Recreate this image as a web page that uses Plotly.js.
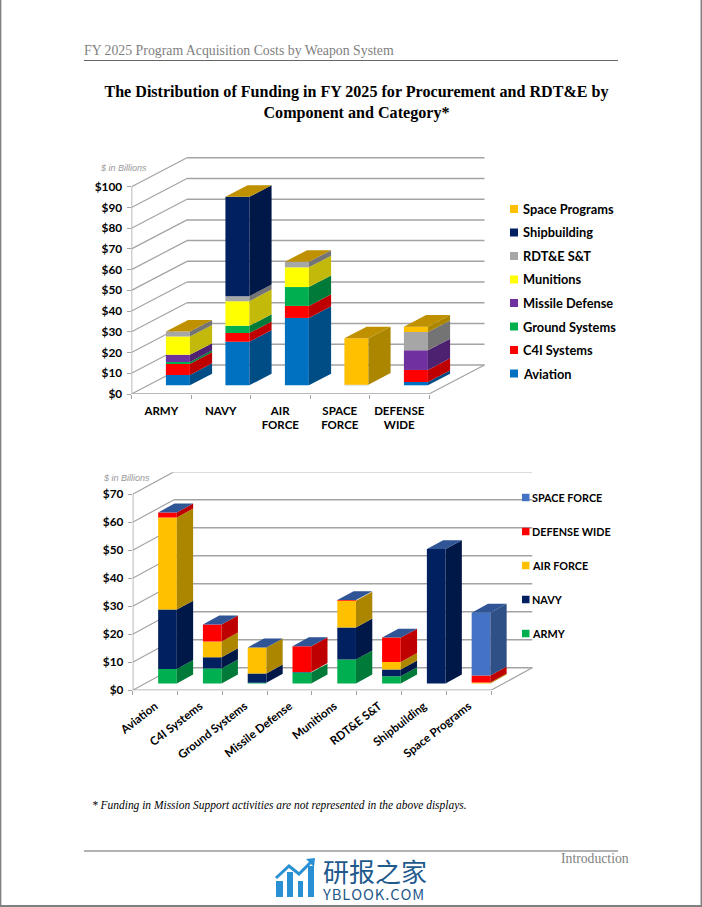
<!DOCTYPE html>
<html><head><meta charset="utf-8">
<script src="https://cdn.plot.ly/plotly-3.0.1.min.js"></script>
<style>html,body{margin:0;padding:0;background:#fff}#c{width:702px;height:907px}</style>
</head><body><div id="c"></div>
<script>
// ---- data: top chart ----
const components = ['ARMY','NAVY','AIR<br>FORCE','SPACE<br>FORCE','DEFENSE<br>WIDE'];
const aviation = [5, 21, 32.5, 0, 1.6];
const c4i = [5.3, 4.2, 5.8, 0, 5.8];
const groundSystems = [1, 3.5, 9.1, 0, 0];
const missileDefense = [3.4, 0, 0, 0, 9.5];
const munitions = [8.8, 11.9, 9.5, 0, 0];
const rdteSt = [2.4, 2.4, 2.7, 0.3, 8.8];
const shipbuilding = [0, 47.9, 0, 0, 0];
const spacePrograms = [0, 0, 0, 22.4, 2.6];
const topTicks = [0,10,20,30,40,50,60,70,80,90,100];
// ---- data: bottom chart ----
const categories = ['Aviation','C4I Systems','Ground Systems','Missile Defense','Munitions','RDT&amp;E S&amp;T','Shipbuilding','Space Programs'];
const army = [5.2, 5.4, 0.3, 3.9, 8.6, 2.6, 0, 0];
const navy = [21.2, 4, 3.3, 0.2, 11.4, 2.4, 48, 0];
const airForce = [32.9, 5.6, 9.3, 0, 9.6, 2.7, 0, 0.4];
const defenseWide = [1.8, 6.1, 0, 9.2, 0.2, 8.7, 0, 2.5];
const spaceForce = [0, 0, 0, 0, 0, 0, 0, 22.4];
const bottomTicks = [0,10,20,30,40,50,60,70];

const topSeries = [
 {name:'Aviation',v:aviation,c:'#0070C0',s:'#004C84'},
 {name:'C4I Systems',v:c4i,c:'#FF0000',s:'#BF0000'},
 {name:'Ground Systems',v:groundSystems,c:'#00B050',s:'#007A38'},
 {name:'Missile Defense',v:missileDefense,c:'#7030A0',s:'#4D2170'},
 {name:'Munitions',v:munitions,c:'#FFFF00',s:'#C2B90A'},
 {name:'RDT&amp;E S&amp;T',v:rdteSt,c:'#A6A6A6',s:'#747474'},
 {name:'Shipbuilding',v:shipbuilding,c:'#002060',s:'#001848'},
 {name:'Space Programs',v:spacePrograms,c:'#FFC000',s:'#AD8600'}];
const bottomSeries = [
 {name:'ARMY',v:army,c:'#00B050',s:'#007A38'},
 {name:'NAVY',v:navy,c:'#002060',s:'#001848'},
 {name:'AIR FORCE',v:airForce,c:'#FFC000',s:'#AD8600'},
 {name:'DEFENSE WIDE',v:defenseWide,c:'#FF0000',s:'#BF0000'},
 {name:'SPACE FORCE',v:spaceForce,c:'#4472C4',s:'#2F5087'}];

const W=702,H=907;
const px=x=>x/W, py=y=>1-y/H;
const traces=[], shapes=[], annotations=[];
const SANS='Lato, "Open Sans", sans-serif', SERIF='"Liberation Serif", serif', ARIAL='"Liberation Sans", sans-serif';
const WALL='#A3A3A3';

function chart(o){
  const n=o.labels.length;
  const xs=o.xs.replace('axis',''), ys=o.ys.replace('axis','');
  const catPx=(o.frontRight-o.left)/n,
    valPx=o.pxPerVal,
    dX=o.depthPx[0]/catPx, dY=o.depthPx[1]/valPx;
  const ctr=i=>i+0.5+o.barOffset*dX, hw=o.barW/2;
  const bdX=o.barDepth*dX, bdY=o.barDepth*dY, base0=o.barOffset*dY;
  // wall lines
  o.ticks.forEach(v=>{
    shapes.push({type:'line',layer:'below',xref:xs,yref:ys,x0:0,y0:v,x1:dX,y1:v+dY,line:{color:WALL,width:1.2}});
    shapes.push({type:'line',layer:'below',xref:xs,yref:ys,x0:dX,y0:v+dY,x1:n+dX,y1:v+dY,line:{color:WALL,width:1.5}});
  });
  const vmax=o.ticks[o.ticks.length-1];
  shapes.push({type:'line',layer:'below',xref:xs,yref:ys,x0:0,y0:0,x1:0,y1:vmax,line:{color:WALL,width:1.5}});
  shapes.push({type:'line',layer:'below',xref:xs,yref:ys,x0:0,y0:0,x1:n,y1:0,line:{color:WALL,width:1.5}});
  shapes.push({type:'line',layer:'below',xref:xs,yref:ys,x0:n,y0:0,x1:n+dX,y1:dY,line:{color:WALL,width:1.2}});
  // bars and sides
  const cum=o.labels.map(()=>base0);
  const idx=o.labels.map((_,i)=>ctr(i));
  const sideTraces=[];
  o.series.forEach(s=>{
    const base=cum.slice();
    traces.push({type:'bar',xaxis:xs,yaxis:ys,x:idx,y:s.v,base:base,width:o.barW,name:s.name,
      marker:{color:s.c,line:{width:0}},showlegend:false,hoverinfo:'name+y'});
    const X=[],Y=[];
    s.v.forEach((v,i)=>{
      if(v>0){
        const r=idx[i]+hw;
        X.push(r,r+bdX,r+bdX,r,r,null);
        Y.push(cum[i],cum[i]+bdY,cum[i]+v+bdY,cum[i]+v,cum[i],null);
      }
      cum[i]+=v;
    });
    sideTraces.push({type:'scatter',mode:'lines',xaxis:xs,yaxis:ys,x:X,y:Y,fill:'toself',fillcolor:s.s,
      line:{width:0,color:s.s},hoverinfo:'skip',showlegend:false});
  });
  sideTraces.forEach(t=>traces.push(t));
  const TX=[],TY=[];
  cum.forEach((t,i)=>{
    const l=idx[i]-hw,r=idx[i]+hw;
    TX.push(l,r,r+bdX,l+bdX,l,null);
    TY.push(t,t,t+bdY,t+bdY,t,null);
  });
  traces.push({type:'scatter',mode:'lines',xaxis:xs,yaxis:ys,x:TX,y:TY,fill:'toself',fillcolor:o.topColor,
    line:{width:0,color:o.topColor},hoverinfo:'skip',showlegend:false});

  const xa={domain:[px(o.left),px(o.right)],range:[0,(o.right-o.left)/catPx],anchor:ys,
    tickmode:'array',tickvals:o.labels.map((_,i)=>i+0.5),ticktext:o.labels,ticks:'',
    tickangle:o.tickAngle,showgrid:false,zeroline:false,showline:false,ticklabelstandoff:o.xStandoff,
    tickfont:{family:SANS,size:o.xFont,color:'#000',weight:700},
    minor:{tickmode:'array',tickvals:o.labels.map((_,i)=>i).concat([n]),ticks:'outside',ticklen:4,tickcolor:WALL,tickwidth:1,showgrid:false},
    fixedrange:true};
  const ya={domain:[py(o.bottom),py(o.top)],range:[0,(o.bottom-o.top)/valPx],anchor:xs,
    tickmode:'array',tickvals:o.ticks,ticktext:o.ticks.map(v=>'$'+v),ticks:'outside',ticklen:4,tickcolor:WALL,tickwidth:1,
    showgrid:false,zeroline:false,showline:false,ticklabelstandoff:2,
    tickfont:{family:SANS,size:o.yFont,color:'#000',weight:700},fixedrange:true};
  return [xa,ya];
}

const [xa1,ya1]=chart({labels:components,series:topSeries,ticks:topTicks,xs:'xaxis',ys:'yaxis',
  left:131.5,right:485,frontRight:429,top:157,bottom:394,pxPerVal:2.073,depthPx:[55.5,29],
  barW:0.403,barOffset:0.30,barDepth:0.40,topColor:'#BF9000',tickAngle:0,xFont:11.5,yFont:11.8,xStandoff:8});
const [xa2,ya2]=chart({labels:categories,series:bottomSeries,ticks:bottomTicks,xs:'xaxis2',ys:'yaxis2',
  left:132.7,right:533,frontRight:491,top:472.3,bottom:690.3,pxPerVal:2.8,depthPx:[41.3,22.6],
  barW:0.417,barOffset:0.30,barDepth:0.395,topColor:'#2F5597',tickAngle:-38,xFont:11.6,yFont:11.8,xStandoff:6});

// legends
function legend(series,x,y0,step,size,textX,fontSize){
  series.slice().reverse().forEach((s,i)=>{
    const y=y0+i*step;
    shapes.push({type:'rect',xref:'paper',yref:'paper',layer:'above',x0:px(x),x1:px(x+size),y0:py(y-size/2),y1:py(y+size/2),fillcolor:s.c,line:{width:0}});
    annotations.push({xref:'paper',yref:'paper',x:px(textX),y:py(y),xanchor:'left',yanchor:'middle',showarrow:false,text:s.name,
      font:{family:SANS,size:fontSize,color:'#000',weight:700}});
  });
}
legend(topSeries,510,209,23.5,8,521,12.8);
legend(bottomSeries,522,497.5,34,7.5,530,10.8);

// page furniture
function txt(t,x,y,anchor,font,align){annotations.push({xref:'paper',yref:'paper',x:px(x),y:py(y),xanchor:anchor,yanchor:'middle',align:align||'center',showarrow:false,text:t,font:font});}
txt('FY 2025 Program Acquisition Costs by Weapon System',82,50.5,'left',{family:SERIF,size:13.8,color:'#7F7F7F'});
txt('$ in Billions',98,168.5,'left',{family:ARIAL,size:9,color:'#999999',style:'italic'});
txt('$ in Billions',101,478,'left',{family:ARIAL,size:9,color:'#999999',style:'italic'});
txt('* Funding in Mission Support activities are not represented in the above displays.',90,805,'left',{family:SERIF,size:11.45,color:'#000',style:'italic'});
txt('Introduction',559,858,'left',{family:SERIF,size:13.7,color:'#7F7F7F'});
txt('<span style="font-size:26px">研报之家</span><br><span style="font-size:14.7px">Y\u200AB\u200AL\u200AO\u200AO\u200AK\u200A.\u200AC\u200AO\u200AM</span>',320,878,'left',{family:'"Noto Sans CJK SC"',size:13.6,color:'#1F5A8C'},'left');
const rule=(x0,x1,y,c,w)=>shapes.push({type:'line',xref:'paper',yref:'paper',x0:px(x0),x1:px(x1),y0:py(y),y1:py(y),line:{color:c,width:w}});
rule(84,618,60.5,'#666666',1.2);
rule(84,618,851,'#666666',1.2);
// page border
rule(0,702,906,'#808080',2);
shapes.push({type:'line',xref:'paper',yref:'paper',x0:px(0.6),x1:px(0.6),y0:0,y1:1,line:{color:'#808080',width:1.5}});
shapes.push({type:'line',xref:'paper',yref:'paper',x0:px(701.3),x1:px(701.3),y0:0,y1:1,line:{color:'#808080',width:1.5}});
// watermark logo
[[276,283,881],[287,293,872],[298,303,881],[308,314,866]].forEach(b=>shapes.push({type:'rect',xref:'paper',yref:'paper',layer:'above',
  x0:px(b[0]),x1:px(b[1]),y0:py(897),y1:py(b[2]),fillcolor:'#2A90D4',line:{width:0}}));
shapes.push({type:'path',xref:'paper',yref:'paper',path:`M ${px(276)} ${py(878)} L ${px(289)} ${py(866)} L ${px(299)} ${py(874)} L ${px(311)} ${py(862)}`,line:{color:'#2A90D4',width:3}});
shapes.push({type:'path',xref:'paper',yref:'paper',path:`M ${px(306)} ${py(859)} L ${px(315)} ${py(858)} L ${px(314)} ${py(867)} Z`,fillcolor:'#2A90D4',line:{width:0}});

const layout={width:W,height:H,margin:{l:0,r:0,t:0,b:0,autoexpand:false},paper_bgcolor:'#fff',plot_bgcolor:'rgba(0,0,0,0)',
  barmode:'overlay',showlegend:false,
  title:{text:'<b>The Distribution of Funding in FY 2025 for Procurement and RDT&amp;E by<br>Component and Category*</b>',
    x:px(356.5),y:py(97),xref:'paper',yref:'paper',xanchor:'center',yanchor:'middle',
    font:{family:SERIF,size:16.1,color:'#000'}},
  xaxis:xa1,yaxis:ya1,xaxis2:xa2,yaxis2:ya2,shapes:shapes,annotations:annotations};
Plotly.newPlot('c',traces,layout,{displayModeBar:false,staticPlot:true});
</script></body></html>
